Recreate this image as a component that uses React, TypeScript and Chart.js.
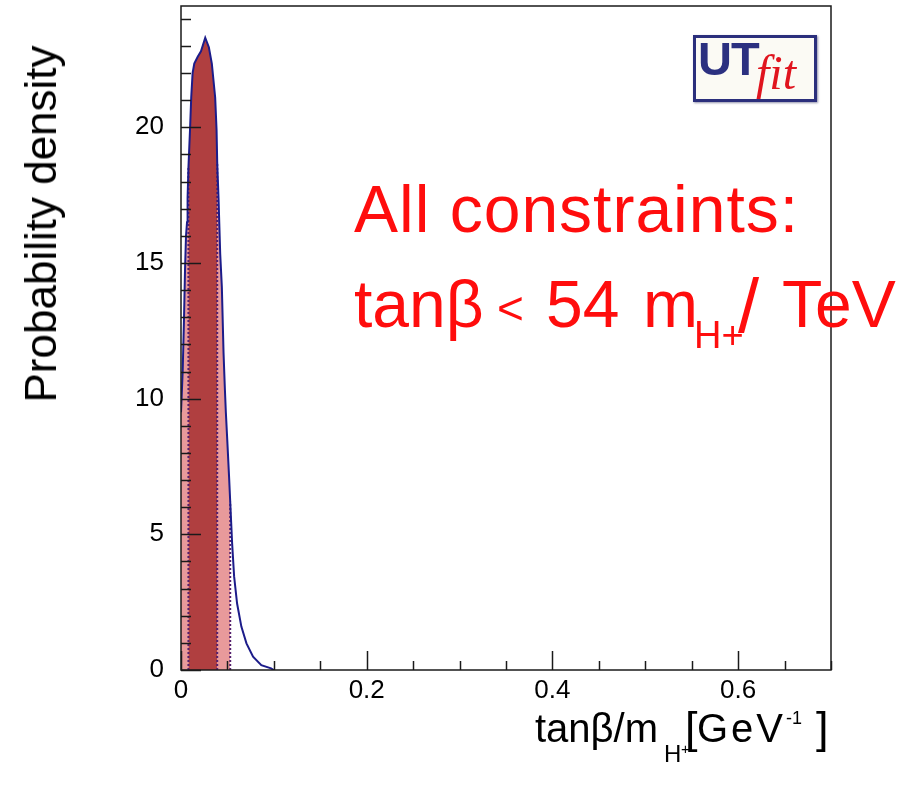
import React, { useEffect, useRef } from "react";
import { Chart, registerables } from "chart.js";

Chart.register(...registerables);

// ---- data ----
const xValues = [
  0, 0.0018, 0.0032, 0.0043, 0.0054, 0.0065, 0.0071, 0.008, 0.0097, 0.011,
  0.0125, 0.0143, 0.018, 0.0215, 0.0261, 0.03, 0.0332, 0.0368, 0.0383, 0.039,
  0.0404, 0.0422, 0.044, 0.0458, 0.0472, 0.0483, 0.05, 0.0518, 0.053, 0.055,
  0.0572, 0.0604, 0.065, 0.0705, 0.0776, 0.0865, 0.097, 0.1,
];
const densityValues = [
  9.5, 11.0, 12.9, 14.7, 16.0, 16.5, 17.4, 18.5, 19.9, 21.1,
  22.0, 22.35, 22.6, 22.8, 23.3, 22.95, 22.35, 21.1, 19.9, 18.7,
  17.4, 15.35, 14.1, 11.7, 10.4, 9.5, 8.35, 7.1, 6.2, 4.7,
  3.45, 2.45, 1.6, 0.98, 0.49, 0.18, 0.06, 0,
];
const interval68 = [0.008, 0.039];
const interval95 = [0, 0.053];
const xTickValues = [0, 0.2, 0.4, 0.6];
const xTickLabels = ["0", "0.2", "0.4", "0.6"];
const yTickValues = [0, 5, 10, 15, 20];
const yTickLabels = ["0", "5", "10", "15", "20"];
const xMinorStep = 0.05;
const yMinorStep = 1;
const xRange = [0, 0.7];
const yRange = [0, 24.47];

const points = xValues.map((x, i) => ({ x, y: densityValues[i] }));
const inRange = (r: number[]) => points.filter((p) => p.x >= r[0] - 1e-9 && p.x <= r[1] + 1e-9);
const yAt = (x: number) => {
  const i = xValues.findIndex((v) => Math.abs(v - x) < 1e-9);
  return i >= 0 ? densityValues[i] : 0;
};

const SANS = '"Liberation Sans", Arial, Helvetica, sans-serif';

const frameTicks = {
  id: "frameTicks",
  afterDatasetsDraw(chart: any) {
    const { ctx, chartArea: a, scales } = chart;
    const xs = scales.x;
    const ys = scales.y;
    ctx.save();
    ctx.strokeStyle = "#1a1a1a";
    ctx.lineWidth = 1.5;
    ctx.strokeRect(a.left, a.top, a.right - a.left, a.bottom - a.top);
    const yMajor = yTickValues[1] - yTickValues[0];
    for (let n = 0; n * yMinorStep <= yRange[1] + 1e-9; n++) {
      const v = n * yMinorStep;
      const isMajor = Math.abs(v / yMajor - Math.round(v / yMajor)) < 1e-6;
      const py = Math.round(ys.getPixelForValue(v)) + 0.5;
      ctx.beginPath();
      ctx.moveTo(a.left, py);
      ctx.lineTo(a.left + (isMajor ? 20 : 10), py);
      ctx.stroke();
    }
    const xMajor = xTickValues[1] - xTickValues[0];
    for (let n = 0; n * xMinorStep <= xRange[1] + 1e-9; n++) {
      const v = n * xMinorStep;
      const isMajor = Math.abs(v / xMajor - Math.round(v / xMajor)) < 1e-6;
      const px = Math.round(xs.getPixelForValue(v)) + 0.5;
      ctx.beginPath();
      ctx.moveTo(px, a.bottom);
      ctx.lineTo(px, a.bottom - (isMajor ? 19 : 9));
      ctx.stroke();
    }
    ctx.restore();
  },
};

function Txt(props: { x: number; base: number; size: number; children: any; style?: any }) {
  const { x, base, size, children, style } = props;
  return (
    <span
      style={{
        position: "absolute",
        left: x,
        top: base - 0.8465 * size,
        fontSize: size,
        lineHeight: `${size}px`,
        fontFamily: SANS,
        whiteSpace: "nowrap",
        ...style,
      }}
    >
      {children}
    </span>
  );
}

export default function App() {
  const canvasRef = useRef<HTMLCanvasElement | null>(null);

  useEffect(() => {
    const canvas = canvasRef.current;
    if (!canvas) return;
    const boundaryLines = [interval68[0], interval68[1], interval95[1]].map((b) => ({
      type: "line" as const,
      data: [
        { x: b, y: 0 },
        { x: b, y: yAt(b) },
      ],
      borderColor: "#55206e",
      borderWidth: 2,
      borderDash: [2, 2],
      pointRadius: 0,
      fill: false,
      order: 1,
    }));
    const chart = new Chart(canvas, {
      type: "line",
      data: {
        datasets: [
          {
            data: points,
            borderColor: "#1c1c8a",
            borderWidth: 2,
            pointRadius: 0,
            fill: false,
            tension: 0,
            order: 0,
          },
          ...boundaryLines,
          {
            data: inRange(interval68),
            borderWidth: 0,
            borderColor: "rgba(0,0,0,0)",
            backgroundColor: "#b03f40",
            pointRadius: 0,
            fill: "origin",
            order: 2,
          },
          {
            data: inRange(interval95),
            borderWidth: 0,
            borderColor: "rgba(0,0,0,0)",
            backgroundColor: "#e89a9b",
            pointRadius: 0,
            fill: "origin",
            order: 3,
          },
        ] as any,
      },
      options: {
        animation: false,
        responsive: false,
        devicePixelRatio: 1,
        layout: { padding: { top: 6, right: 73, left: 0, bottom: 0 } },
        plugins: { legend: { display: false }, tooltip: { enabled: false } },
        scales: {
          x: {
            type: "linear",
            min: xRange[0],
            max: xRange[1],
            grid: { display: false, drawTicks: false },
            border: { display: false },
            afterBuildTicks: (s: any) => {
              s.ticks = xTickValues.map((v) => ({ value: v }));
            },
            afterFit: (s: any) => {
              s.height = 120;
              s.paddingLeft = 0;
              s.paddingRight = 0;
              s.paddingTop = 0;
              s.paddingBottom = 0;
            },
            ticks: {
              padding: 5,
              maxRotation: 0,
              autoSkip: false,
              color: "#000",
              font: { family: SANS, size: 26 },
              callback: (v: any) => xTickLabels[xTickValues.indexOf(Number(v))] ?? "",
            },
          },
          y: {
            type: "linear",
            min: yRange[0],
            max: yRange[1],
            grid: { display: false, drawTicks: false },
            border: { display: false },
            afterBuildTicks: (s: any) => {
              s.ticks = yTickValues.map((v) => ({ value: v }));
            },
            afterFit: (s: any) => {
              s.width = 181;
              s.paddingLeft = 0;
              s.paddingRight = 0;
              s.paddingTop = 0;
              s.paddingBottom = 0;
            },
            ticks: {
              padding: 17,
              autoSkip: false,
              color: "#000",
              font: { family: SANS, size: 26 },
              callback: (v: any) => yTickLabels[yTickValues.indexOf(Number(v))] ?? "",
            },
          },
        },
      },
      plugins: [frameTicks],
    });
    return () => chart.destroy();
  }, []);

  const red = "#ff0d0d";
  return (
    <div
      style={{
        position: "absolute",
        left: 0,
        top: 0,
        width: 904,
        height: 790,
        background: "#fff",
        overflow: "hidden",
      }}
    >
      <canvas ref={canvasRef} width={904} height={790} style={{ display: "block" }} />

      {/* y-axis title */}
      <span
        style={{
          position: "absolute",
          left: 41,
          top: 224,
          transform: "translate(-50%, -50%) rotate(-90deg)",
          fontFamily: SANS,
          fontSize: 44,
          lineHeight: "44px",
          whiteSpace: "nowrap",
          color: "#000",
        }}
      >
        Probability density
      </span>

      {/* x-axis title */}
      <Txt x={535} base={742} size={40}>tanβ/m</Txt>
      <Txt x={664} base={762} size={24}>H</Txt>
      <Txt x={681} base={754} size={15}>+</Txt>
      <Txt x={685} base={743} size={45}>[</Txt>
      <Txt x={697} base={742} size={40} style={{ letterSpacing: 3 }}>GeV</Txt>
      <Txt x={786} base={724} size={18}>-1</Txt>
      <Txt x={816} base={743} size={45}>]</Txt>

      {/* annotation */}
      <Txt x={354} base={232} size={66} style={{ color: red, letterSpacing: 1 }}>All constraints:</Txt>
      <Txt x={354} base={327} size={66} style={{ color: red }}>tanβ</Txt>
      <Txt x={497} base={324} size={46} style={{ color: red }}>&lt;</Txt>
      <Txt x={546} base={327} size={66} style={{ color: red }}>54</Txt>
      <Txt x={643} base={327} size={66} style={{ color: red }}>m</Txt>
      <Txt x={694} base={348} size={38} style={{ color: red }}>H+</Txt>
      <Txt x={738} base={332} size={76} style={{ color: red }}>/</Txt>
      <Txt x={782} base={327} size={66} style={{ color: red }}>TeV</Txt>

      {/* logo */}
      <div
        style={{
          position: "absolute",
          left: 693,
          top: 35,
          width: 118,
          height: 61,
          border: "3px solid #2b2f7c",
          background: "#fbfaf4",
          boxShadow: "1px 1px 2px rgba(40,40,90,0.5)",
        }}
      />
      <Txt x={698} base={75} size={47} style={{ fontWeight: "bold", color: "#2b3080", letterSpacing: -1 }}>UT</Txt>
      <Txt
        x={756}
        base={90}
        size={48}
        style={{ fontFamily: '"Liberation Serif", "Times New Roman", serif', fontStyle: "italic", color: "#e0141e" }}
      >
        fit
      </Txt>
    </div>
  );
}
